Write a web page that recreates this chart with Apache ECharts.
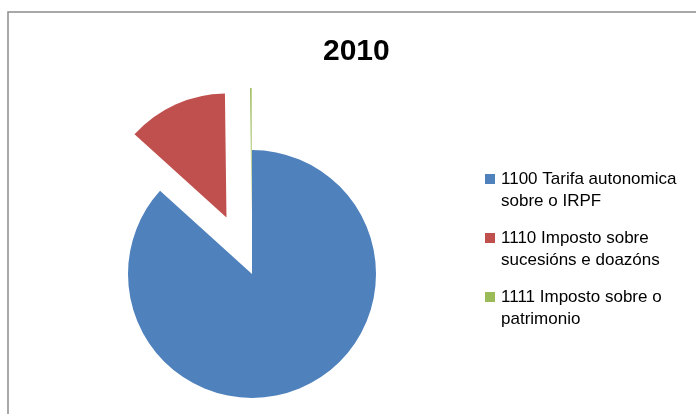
<!DOCTYPE html>
<html>
<head>
<meta charset="utf-8">
<script src="https://cdn.jsdelivr.net/npm/echarts@6/dist/echarts.min.js"></script>
<style>
  html, body { margin: 0; padding: 0; background: #fff; }
  #chart { width: 696px; height: 414px; }
</style>
</head>
<body>
<div id="chart"></div>
<script>
const chartTitle = '2010';
const categories = [
  '1100 Tarifa autonomica\nsobre o IRPF',
  '1110 Imposto sobre\nsucesións e doazóns',
  '1111 Imposto sobre o\npatrimonio',
];
const shares = [86.7, 13.1, 0.2];
const exploded = [false, true, true];
const colors = ['#4f81bd', '#c0504d', '#9bbb59'];

const chart = echarts.init(document.getElementById('chart'), null, {
  renderer: 'canvas',
});

chart.setOption({
  backgroundColor: '#fff',
  animation: false,
  color: colors,
  graphic: [
    {
      type: 'rect',
      shape: { x: 8, y: 12, width: 720, height: 440 },
      style: { fill: 'none', stroke: '#8c8c8c', lineWidth: 1.5 },
      silent: true,
    },
  ],
  title: {
    text: chartTitle,
    left: 318,
    top: 32,
    textStyle: {
      fontFamily: 'Liberation Sans',
      fontWeight: 'bold',
      fontSize: 30,
      color: '#000',
    },
  },
  legend: {
    orient: 'vertical',
    left: 480,
    top: 141,
    itemWidth: 10,
    itemHeight: 10,
    itemGap: -7,
    icon: 'rect',
    selectedMode: false,
    // leading blank line keeps the swatch level with the first text line
    formatter: (name) => '\n' + name,
    textStyle: {
      fontFamily: 'Liberation Sans',
      fontSize: 17,
      lineHeight: 22,
      color: '#000',
      padding: [0, 0, 0, 1],
    },
    data: categories,
  },
  series: [
    {
      type: 'pie',
      center: [252, 274],
      radius: 124,
      startAngle: 90,
      clockwise: true,
      selectedMode: 'multiple',
      selectedOffset: 62,
      label: { show: false },
      labelLine: { show: false },
      emphasis: { disabled: true },
      itemStyle: { borderWidth: 0 },
      data: categories.map((name, i) => ({
        name,
        value: shares[i],
        selected: exploded[i],
        itemStyle: { color: colors[i] },
        select: { itemStyle: { color: colors[i] } },
      })),
    },
  ],
});

window.addEventListener('resize', () => chart.resize());
</script>
</body>
</html>
